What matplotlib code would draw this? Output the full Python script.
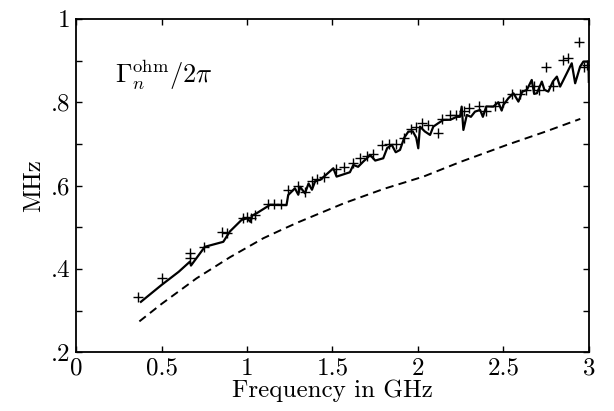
import matplotlib
matplotlib.use("Agg")
import matplotlib.pyplot as plt

plt.rcParams['font.family'] = ['cmr10', 'DejaVu Serif']
plt.rcParams['mathtext.fontset'] = 'cm'
plt.rcParams['axes.formatter.use_mathtext'] = True

# Solid line (computed rate)
line_x = [0.379, 0.50, 0.60, 0.666, 0.672, 0.753, 0.861, 0.90, 0.968, 1.0, 1.02, 1.03, 1.056,
          1.134, 1.231, 1.241, 1.26, 1.28, 1.30, 1.31, 1.339, 1.36, 1.38, 1.40, 1.427, 1.46,
          1.505, 1.524, 1.602, 1.622, 1.65, 1.68, 1.70, 1.72, 1.75, 1.797, 1.82, 1.847, 1.87,
          1.895, 1.92, 1.944, 1.97, 1.99, 2.002, 2.012, 2.04, 2.071, 2.09, 2.12, 2.149, 2.19,
          2.227, 2.246, 2.256, 2.266, 2.286, 2.31, 2.334, 2.364, 2.38, 2.40, 2.441, 2.47, 2.49,
          2.5, 2.53, 2.559, 2.588, 2.61, 2.637, 2.666, 2.68, 2.696, 2.725, 2.74, 2.763, 2.79,
          2.813, 2.832, 2.871, 2.9, 2.92, 2.949, 2.968, 2.998, 3.0]
line_y = [0.321, 0.3615, 0.393, 0.4175, 0.408, 0.453, 0.465, 0.49, 0.5175, 0.5215, 0.513, 0.528, 0.5335,
          0.5535, 0.553, 0.5775, 0.585, 0.5935, 0.578, 0.597, 0.5815, 0.605, 0.59, 0.612, 0.6135, 0.625,
          0.6415, 0.6215, 0.632, 0.6495, 0.645, 0.6575, 0.665, 0.6735, 0.66, 0.6655, 0.69, 0.6975, 0.68,
          0.6855, 0.715, 0.7295, 0.73, 0.715, 0.6895, 0.7415, 0.73, 0.7215, 0.7415, 0.75, 0.7575, 0.758,
          0.765, 0.765, 0.7895, 0.7335, 0.7695, 0.765, 0.7775, 0.7815, 0.765, 0.79, 0.7895, 0.80, 0.78,
          0.7935, 0.81, 0.8215, 0.8015, 0.825, 0.8295, 0.8535, 0.82, 0.8215, 0.8495, 0.83, 0.8255, 0.85,
          0.8615, 0.8375, 0.8695, 0.8935, 0.8455, 0.8855, 0.8975, 0.8975, 0.849]

# Crosses (measured values)
pts_x = [0.363, 0.504, 0.666, 0.666, 0.748, 0.851, 0.88, 0.978, 1.0, 1.025, 1.046, 1.12, 1.16, 1.20,
         1.241, 1.30, 1.339, 1.38, 1.41, 1.45, 1.52, 1.57, 1.62, 1.66, 1.70, 1.74, 1.788, 1.83, 1.87,
         1.92, 1.96, 1.99, 2.022, 2.06, 2.12, 2.14, 2.188, 2.22, 2.27, 2.30, 2.36, 2.40, 2.45, 2.50,
         2.55, 2.60, 2.63, 2.68, 2.71, 2.75, 2.79, 2.851, 2.88, 2.94, 2.97, 2.99]
pts_y = [0.333, 0.378, 0.438, 0.426, 0.453, 0.489, 0.486, 0.522, 0.525, 0.5215, 0.53, 0.556, 0.556, 0.556,
         0.59, 0.60, 0.585, 0.61, 0.615, 0.62, 0.64, 0.645, 0.655, 0.665, 0.67, 0.675, 0.6975, 0.70, 0.70,
         0.715, 0.735, 0.74, 0.7495, 0.745, 0.7255, 0.76, 0.7695, 0.77, 0.78, 0.785, 0.79, 0.78, 0.79, 0.80,
         0.82, 0.82, 0.83, 0.84, 0.83, 0.8855, 0.84, 0.9015, 0.9055, 0.9455, 0.885, 0.89]

# Dashed line
dash_x = [0.37, 0.5, 0.705, 0.9, 1.095, 1.2, 1.3, 1.57, 1.8, 2.032, 2.25, 2.52, 2.75, 2.95]
dash_y = [0.274, 0.316, 0.3775, 0.428, 0.4735, 0.4935, 0.512, 0.558, 0.592, 0.6215, 0.657, 0.6975, 0.73, 0.760]

xticks = [0, 0.5, 1, 1.5, 2, 2.5, 3]
xtick_labels = ['0', '0.5', '1', '1.5', '2', '2.5', '3']
yticks = [0.2, 0.3, 0.4, 0.5, 0.6, 0.7, 0.8, 0.9, 1.0]
ytick_labels = ['.2', '', '.4', '', '.6', '', '.8', '', '1']

fig = plt.figure(figsize=(6.14, 4.11), dpi=100)
ax = fig.add_axes([0.124, 0.143, 0.835, 0.811])

ax.plot(line_x, line_y, color='black', lw=1.6)
ax.plot(pts_x, pts_y, linestyle='none', marker='+', color='black', ms=6.5, mew=1.0)
ax.plot(dash_x, dash_y, color='black', lw=1.4, linestyle=(0, (4.2, 2.7)))

ax.set_xlim(0, 3)
ax.set_ylim(0.2, 1.0)
ax.set_xticks(xticks)
ax.set_xticklabels(xtick_labels)
ax.set_yticks(yticks)
ax.set_yticklabels(ytick_labels)
ax.tick_params(direction='in', top=True, right=True, length=4, width=1.0, labelsize=18, pad=4)
for s in ax.spines.values():
    s.set_linewidth(1.3)

ax.set_xlabel('Frequency in GHz', fontsize=18, labelpad=0)
ax.set_ylabel('MHz', fontsize=18, labelpad=4)

ax.text(0.227, 0.865, r'$\Gamma_n^{\mathrm{ohm}}/2\pi$', fontsize=19, ha='left', va='center')

fig.savefig('out.png', dpi=100)
